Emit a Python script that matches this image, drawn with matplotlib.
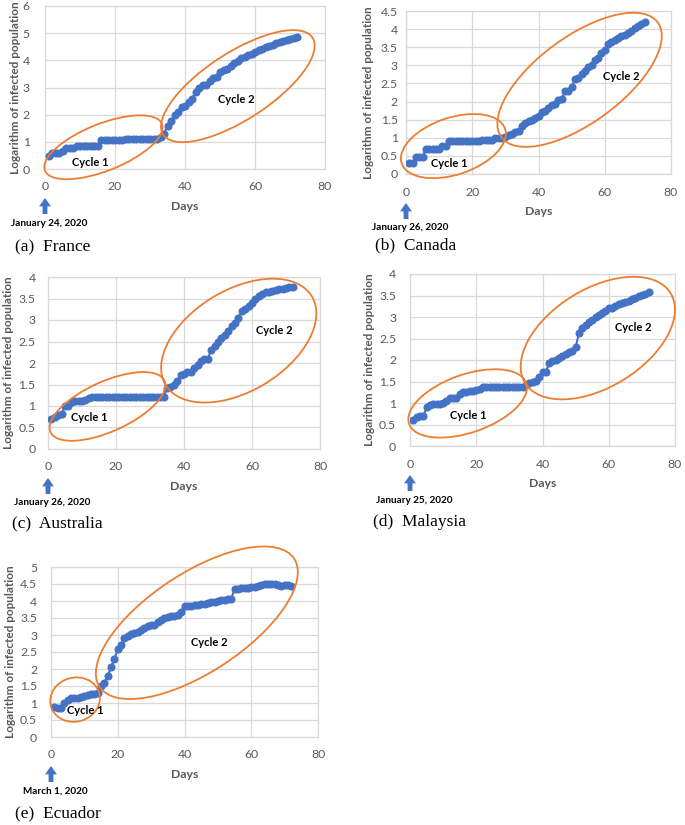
import numpy as np
import matplotlib
matplotlib.use('Agg')
import matplotlib.pyplot as plt
from matplotlib.patches import Ellipse
from matplotlib.transforms import ScaledTranslation
from matplotlib.ticker import FuncFormatter

plt.rcParams['font.family'] = ['Lato', 'DejaVu Sans']

# Colores estilo Excel
azul = '#4472C4'
naranja = '#ED7D31'
gris = '#595959'
rejilla = '#D9D9D9'

# Dias (eje x)
days = list(range(1, 73))

# Logaritmo de la poblacion infectada, un valor por dia
france = [0.48, 0.60, 0.60, 0.60, 0.65, 0.78, 0.78, 0.78, 0.85, 0.85, 0.85, 0.85,
          0.85, 0.85, 0.85, 1.08, 1.08, 1.08, 1.08, 1.08, 1.08, 1.08, 1.11, 1.11,
          1.11, 1.11, 1.11, 1.11, 1.11, 1.11, 1.11, 1.11, 1.18, 1.30, 1.60, 1.75,
          2.00, 2.10, 2.30, 2.32, 2.45, 2.58, 2.85, 3.00, 3.08, 3.10, 3.25, 3.35,
          3.38, 3.58, 3.65, 3.68, 3.80, 3.90, 3.98, 4.08, 4.12, 4.20, 4.25, 4.32,
          4.38, 4.42, 4.48, 4.52, 4.58, 4.62, 4.66, 4.72, 4.76, 4.79, 4.82, 4.85]
canada = [0.30, 0.30, 0.48, 0.48, 0.48, 0.70, 0.70, 0.70, 0.70, 0.70, 0.78, 0.78,
          0.90, 0.90, 0.90, 0.90, 0.90, 0.90, 0.90, 0.90, 0.90, 0.90, 0.95, 0.95,
          0.95, 0.95, 1.00, 1.00, 1.00, 1.02, 1.08, 1.11, 1.15, 1.18, 1.32, 1.40,
          1.45, 1.50, 1.54, 1.60, 1.70, 1.75, 1.82, 1.90, 1.92, 2.05, 2.08, 2.28,
          2.30, 2.40, 2.62, 2.65, 2.75, 2.85, 2.95, 3.00, 3.15, 3.20, 3.35, 3.42,
          3.60, 3.65, 3.70, 3.75, 3.80, 3.85, 3.90, 3.96, 4.02, 4.08, 4.15, 4.20]
australia = [0.70, 0.75, 0.78, 0.82, 1.00, 1.00, 1.10, 1.11, 1.11, 1.11, 1.15, 1.18,
             1.20, 1.20, 1.20, 1.20, 1.20, 1.20, 1.20, 1.20, 1.20, 1.20, 1.20, 1.20,
             1.20, 1.20, 1.20, 1.20, 1.20, 1.20, 1.20, 1.20, 1.20, 1.20, 1.43, 1.45,
             1.48, 1.58, 1.72, 1.75, 1.78, 1.80, 1.88, 1.95, 2.05, 2.10, 2.10, 2.30,
             2.40, 2.50, 2.58, 2.65, 2.75, 2.85, 2.92, 3.05, 3.20, 3.25, 3.32, 3.40,
             3.48, 3.55, 3.60, 3.64, 3.66, 3.68, 3.70, 3.72, 3.73, 3.75, 3.76, 3.77]
malaysia = [0.60, 0.68, 0.70, 0.70, 0.90, 0.96, 0.97, 0.97, 0.97, 0.99, 1.05, 1.12,
            1.12, 1.12, 1.22, 1.25, 1.26, 1.27, 1.28, 1.30, 1.32, 1.38, 1.38, 1.38,
            1.38, 1.38, 1.38, 1.38, 1.38, 1.38, 1.38, 1.38, 1.38, 1.38, 1.42, 1.47,
            1.50, 1.52, 1.60, 1.72, 1.72, 1.92, 1.97, 2.00, 2.05, 2.10, 2.15, 2.18,
            2.22, 2.30, 2.62, 2.75, 2.82, 2.88, 2.93, 3.00, 3.05, 3.10, 3.15, 3.20,
            3.22, 3.26, 3.30, 3.33, 3.36, 3.38, 3.42, 3.45, 3.48, 3.51, 3.54, 3.57]
ecuador = [0.88, 0.85, 0.86, 1.00, 1.10, 1.14, 1.15, 1.15, 1.18, 1.20, 1.25, 1.27,
           1.27, 1.30, 1.50, 1.60, 1.80, 2.05, 2.30, 2.58, 2.70, 2.90, 2.98, 3.02,
           3.06, 3.10, 3.15, 3.20, 3.26, 3.28, 3.30, 3.38, 3.45, 3.50, 3.53, 3.55,
           3.57, 3.60, 3.68, 3.85, 3.86, 3.86, 3.87, 3.88, 3.90, 3.92, 3.94, 3.96,
           3.98, 4.00, 4.02, 4.03, 4.05, 4.07, 4.35, 4.36, 4.37, 4.38, 4.39, 4.40,
           4.42, 4.44, 4.47, 4.50, 4.51, 4.50, 4.49, 4.46, 4.45, 4.46, 4.46, 4.45]

captions = ['(a)  France', '(b)  Canada', '(c)  Australia', '(d)  Malaysia', '(e)  Ecuador']
start_dates = ['January 24, 2020', 'January 26, 2020', 'January 26, 2020',
               'January 25, 2020', 'March 1, 2020']
y_max = [6, 4.5, 4, 4, 5]
y_step = [1, 0.5, 0.5, 0.5, 0.5]

fig = plt.figure(figsize=(6.85, 8.25), dpi=100)

# posiciones en pixeles: izquierda, derecha, arriba, abajo
cajas = [(45, 325, 6, 169), (406, 671, 11, 174), (48, 320, 277, 449),
         (410, 675, 274, 446), (51, 318, 567, 737)]
# posicion del pie de figura (x izq, y centro) en pixeles
pies = [(15, 247), (375, 245), (12, 523), (373, 522), (15, 813)]
# pad de etiquetas del eje y
ypads = [(11, 1), (6, 5), (9, 3), (10, 3), (10, 3)]

# elipses: centro (datos), ancho/alto (pixeles), angulo
elipses = [
    [(16.7, 0.80, 126, 47, 21.7), (55.1, 3.05, 178, 67, 33)],
    [(14.3, 0.77, 109, 57, 18.5), (52.4, 2.60, 194, 86, 36.3)],
    [(17.5, 0.99, 125, 50, 24.3), (56.1, 2.52, 171, 101, 31.3)],
    [(17.4, 0.99, 124, 58, 19.3), (56.7, 2.51, 171, 98, 31.7)],
    [(7.2, 1.10, 50, 44, 15), (43.7, 3.36, 233, 99, 33.4)],
]
# posiciones de los textos Cycle 1 / Cycle 2 (datos)
ciclos = [
    [(13.0, 0.24), (54.8, 2.57)],
    [(13.1, 0.29), (65.1, 2.70)],
    [(12.1, 0.73), (66.5, 2.76)],
    [(17.6, 0.71), (67.4, 2.75)],
    [(10.3, 0.77), (47.3, 2.78)],
]

series = [france, canada, australia, malaysia, ecuador]

W, H = 685., 825.
for i in range(5):
    l, r, t, b = cajas[i]
    ax = fig.add_axes([l / W, 1 - b / H, (r - l) / W, (b - t) / H])
    ax.plot(days, series[i], '-o', color=azul, ms=4.8, lw=1.5, zorder=3)
    ax.set_xlim(0, 80)
    ax.set_ylim(0, y_max[i])
    ax.set_xticks([0, 20, 40, 60, 80])
    ax.set_yticks(np.arange(0, y_max[i] + 0.01, y_step[i]))
    ax.yaxis.set_major_formatter(FuncFormatter(lambda v, p: '%g' % v))
    ax.grid(True, color=rejilla, lw=0.9)
    ax.set_axisbelow(True)
    for s in ax.spines.values():
        s.set_color(rejilla)
        s.set_linewidth(0.9)
    ax.tick_params(length=0, labelsize=8.8, labelcolor=gris)
    ax.tick_params(axis='x', pad=9)
    ax.tick_params(axis='y', pad=ypads[i][0])
    ax.set_xlabel('Days', fontsize=8.8, color=gris, fontweight='bold', labelpad=6)
    ax.set_ylabel('Logarithm of infected population', fontsize=8.5, color=gris,
                  fontweight='bold', labelpad=ypads[i][1])

    for (cx, cy, w, h, ang) in elipses[i]:
        tr = fig.dpi_scale_trans + ScaledTranslation(cx, cy, ax.transData)
        e = Ellipse((0, 0), w / 100., h / 100., angle=ang, transform=tr,
                    fill=False, edgecolor=naranja, lw=1.3, clip_on=False, zorder=4)
        ax.add_patch(e)
    for k, (tx, ty) in enumerate(ciclos[i]):
        ax.text(tx, ty, 'Cycle %d' % (k + 1), fontsize=8, fontweight='bold',
                ha='center', va='center', zorder=5)

    # flecha y fecha de inicio (debajo del eje, en pixeles)
    punta = ax.transData + ScaledTranslation(0, -0.29, fig.dpi_scale_trans)
    ax.annotate('', xy=(0, 0), xycoords=punta, xytext=(0, -16), textcoords='offset pixels',
                arrowprops=dict(facecolor=azul, edgecolor='none', width=3.5,
                                headwidth=8.5, headlength=6, shrink=0),
                annotation_clip=False)
    ax.annotate(start_dates[i], xy=(0, 0), xycoords='data', xytext=(4, -54),
                textcoords='offset pixels', ha='center', va='center', fontsize=7.2,
                fontweight='bold', annotation_clip=False)

    px, py = pies[i]
    fig.text(px / W, 1 - py / H, captions[i], fontsize=12.5,
             family=['Liberation Serif', 'DejaVu Serif'], ha='left', va='center')

plt.savefig('out.png', dpi=100)
